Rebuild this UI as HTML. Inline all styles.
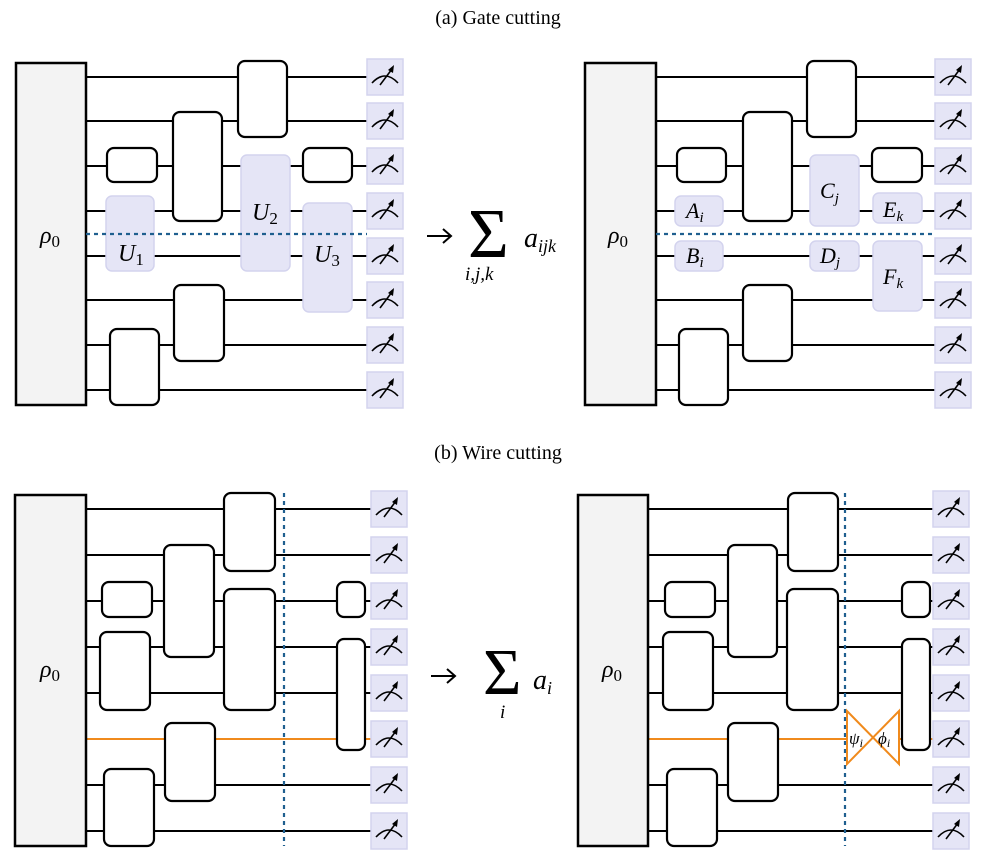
<!DOCTYPE html>
<html><head><meta charset="utf-8"><style>
html,body{margin:0;padding:0;background:#fff}
svg{display:block}
text{font-family:"Liberation Serif",serif}
.w{stroke:#000;stroke-width:2;fill:none}
.g{fill:#fff;stroke:#000;stroke-width:2.2}
.l{fill:#e5e5f6;stroke:#d3d3ee;stroke-width:1.5}
.r{fill:#f3f3f3;stroke:#000;stroke-width:2.5}
.o{stroke:#f08a1c;stroke-width:2;fill:none}
.d{stroke:#1f5f8f;stroke-width:2.2;stroke-dasharray:4,4;fill:none}
.it{font-style:italic}
</style></head><body>
<svg width="997" height="864" viewBox="0 0 997 864" xmlns="http://www.w3.org/2000/svg">
<defs>
<g id="m">
<rect x="0" y="0" width="36" height="36" fill="#e5e5f6" stroke="#d3d3ee" stroke-width="1.5"/>
<path d="M5,24 Q18,10 31,24" stroke="#000" stroke-width="1.6" fill="none"/>
<path d="M13,26 L25,10" stroke="#000" stroke-width="1.6"/>
<path d="M27,6 L21,11 L26,14 Z" fill="#000"/>
</g>
</defs>

<text x="498" y="24" font-size="20" text-anchor="middle">(a) Gate cutting</text>
<text x="498" y="459" font-size="20" text-anchor="middle">(b) Wire cutting</text>

<!-- (a) left -->
<g>
<path class="w" d="M86,77H367M86,121H367M86,166H367M86,211H367M86,256H367M86,300H367M86,345H367M86,390H367"/>
<rect class="r" x="16" y="63" width="70" height="342"/>
<text x="40" y="243" font-size="24" class="it">ρ<tspan font-style="normal" font-size="17" dy="4">0</tspan></text>
<rect class="g" x="238" y="61" width="49" height="76" rx="7"/>
<rect class="g" x="173" y="112" width="49" height="109" rx="7"/>
<rect class="g" x="107" y="148" width="50" height="34" rx="7"/>
<rect class="g" x="303" y="148" width="49" height="34" rx="7"/>
<rect class="g" x="174" y="285" width="50" height="76" rx="7"/>
<rect class="g" x="110" y="329" width="49" height="76" rx="7"/>
<rect class="l" x="106" y="196" width="48" height="75" rx="6"/>
<rect class="l" x="241" y="155" width="49" height="116" rx="6"/>
<rect class="l" x="303" y="203" width="49" height="109" rx="6"/>
<path class="d" d="M86,234H367"/>
<text x="118" y="261" font-size="24" class="it">U<tspan font-style="normal" font-size="17" dy="4">1</tspan></text>
<text x="252" y="220" font-size="24" class="it">U<tspan font-style="normal" font-size="17" dy="4">2</tspan></text>
<text x="314" y="262" font-size="24" class="it">U<tspan font-style="normal" font-size="17" dy="4">3</tspan></text>
<use href="#m" x="367" y="59"/><use href="#m" x="367" y="103"/><use href="#m" x="367" y="148"/><use href="#m" x="367" y="193"/>
<use href="#m" x="367" y="238"/><use href="#m" x="367" y="282"/><use href="#m" x="367" y="327"/><use href="#m" x="367" y="372"/>
</g>

<!-- middle (a) -->
<path d="M427,236H450M443,229L451,236L443,243" stroke="#000" stroke-width="2" fill="none"/>
<text x="468" y="257" font-size="70">Σ</text>
<text x="524" y="247" font-size="28" class="it">a<tspan font-size="18" dy="5">ijk</tspan></text>
<text x="465" y="280" font-size="19" class="it">i,j,k</text>

<!-- (a) right -->
<g>
<path class="w" d="M656,77H935M656,121H935M656,166H935M656,211H935M656,256H935M656,300H935M656,345H935M656,390H935"/>
<rect class="r" x="585" y="63" width="71" height="342"/>
<text x="608" y="243" font-size="24" class="it">ρ<tspan font-style="normal" font-size="17" dy="4">0</tspan></text>
<rect class="g" x="807" y="61" width="49" height="76" rx="7"/>
<rect class="g" x="743" y="112" width="49" height="109" rx="7"/>
<rect class="g" x="677" y="148" width="49" height="34" rx="7"/>
<rect class="g" x="872" y="148" width="50" height="34" rx="7"/>
<rect class="g" x="743" y="285" width="49" height="76" rx="7"/>
<rect class="g" x="679" y="329" width="49" height="76" rx="7"/>
<rect class="l" x="675" y="196" width="48" height="30" rx="6"/>
<rect class="l" x="810" y="155" width="49" height="71" rx="6"/>
<rect class="l" x="873" y="193" width="49" height="30" rx="6"/>
<rect class="l" x="675" y="241" width="48" height="30" rx="6"/>
<rect class="l" x="810" y="241" width="49" height="30" rx="6"/>
<rect class="l" x="873" y="241" width="49" height="70" rx="6"/>
<path class="d" d="M656,234H935"/>
<text x="686" y="218" font-size="22" class="it">A<tspan font-size="15" dy="4">i</tspan></text>
<text x="820" y="198" font-size="22" class="it">C<tspan font-size="15" dy="5">j</tspan></text>
<text x="883" y="217" font-size="22" class="it">E<tspan font-size="15" dy="4">k</tspan></text>
<text x="686" y="263" font-size="22" class="it">B<tspan font-size="15" dy="4">i</tspan></text>
<text x="820" y="263" font-size="22" class="it">D<tspan font-size="15" dy="4">j</tspan></text>
<text x="883" y="284" font-size="22" class="it">F<tspan font-size="15" dy="4">k</tspan></text>
<use href="#m" x="935" y="59"/><use href="#m" x="935" y="103"/><use href="#m" x="935" y="148"/><use href="#m" x="935" y="193"/>
<use href="#m" x="935" y="238"/><use href="#m" x="935" y="282"/><use href="#m" x="935" y="327"/><use href="#m" x="935" y="372"/>
</g>

<!-- (b) left -->
<g>
<path class="w" d="M86,509H371M86,555H371M86,601H371M86,647H371M86,693H371M86,785H371M86,831H371"/>
<path class="o" d="M86,739H371"/>
<rect class="r" x="15" y="495" width="71" height="351"/>
<text x="40" y="677" font-size="24" class="it">ρ<tspan font-style="normal" font-size="17" dy="4">0</tspan></text>
<rect class="g" x="224" y="493" width="51" height="78" rx="7"/>
<rect class="g" x="164" y="545" width="50" height="112" rx="7"/>
<rect class="g" x="102" y="582" width="50" height="35" rx="7"/>
<rect class="g" x="100" y="632" width="50" height="78" rx="7"/>
<rect class="g" x="224" y="589" width="51" height="121" rx="7"/>
<rect class="g" x="337" y="582" width="28" height="35" rx="7"/>
<rect class="g" x="337" y="639" width="28" height="111" rx="7"/>
<rect class="g" x="165" y="723" width="50" height="78" rx="7"/>
<rect class="g" x="104" y="769" width="50" height="77" rx="7"/>
<path class="d" d="M284,493V846"/>
<use href="#m" x="371" y="491"/><use href="#m" x="371" y="537"/><use href="#m" x="371" y="583"/><use href="#m" x="371" y="629"/>
<use href="#m" x="371" y="675"/><use href="#m" x="371" y="721"/><use href="#m" x="371" y="767"/><use href="#m" x="371" y="813"/>
</g>

<!-- middle (b) -->
<path d="M431,676H454M447,669L455,676L447,683" stroke="#000" stroke-width="2" fill="none"/>
<text x="483" y="694" font-size="66">Σ</text>
<text x="533" y="689" font-size="28" class="it">a<tspan font-size="18" dy="5">i</tspan></text>
<text x="500" y="718" font-size="19" class="it">i</text>

<!-- (b) right -->
<g>
<path class="w" d="M648,509H933M648,555H933M648,601H933M648,647H933M648,693H933M648,785H933M648,831H933"/>
<path class="o" d="M648,739H847M899,739H933"/>
<rect class="r" x="578" y="495" width="70" height="351"/>
<text x="602" y="677" font-size="24" class="it">ρ<tspan font-style="normal" font-size="17" dy="4">0</tspan></text>
<rect class="g" x="788" y="493" width="50" height="78" rx="7"/>
<rect class="g" x="728" y="545" width="49" height="112" rx="7"/>
<rect class="g" x="665" y="582" width="50" height="35" rx="7"/>
<rect class="g" x="663" y="632" width="50" height="78" rx="7"/>
<rect class="g" x="787" y="589" width="51" height="121" rx="7"/>
<rect class="g" x="902" y="582" width="28" height="35" rx="7"/>
<rect class="g" x="902" y="639" width="28" height="111" rx="7"/>
<rect class="g" x="728" y="723" width="50" height="78" rx="7"/>
<rect class="g" x="667" y="769" width="50" height="77" rx="7"/>
<path class="d" d="M845,493V846"/>
<path class="o" d="M847,711V764L899,711V764Z" fill="#fff"/>
<text x="849" y="744" font-size="17" class="it">ψ<tspan font-size="12" dy="3">i</tspan></text>
<text x="878" y="744" font-size="17" class="it">ϕ<tspan font-size="12" dy="3">i</tspan></text>
<use href="#m" x="933" y="491"/><use href="#m" x="933" y="537"/><use href="#m" x="933" y="583"/><use href="#m" x="933" y="629"/>
<use href="#m" x="933" y="675"/><use href="#m" x="933" y="721"/><use href="#m" x="933" y="767"/><use href="#m" x="933" y="813"/>
</g>
</svg>
</body></html>
